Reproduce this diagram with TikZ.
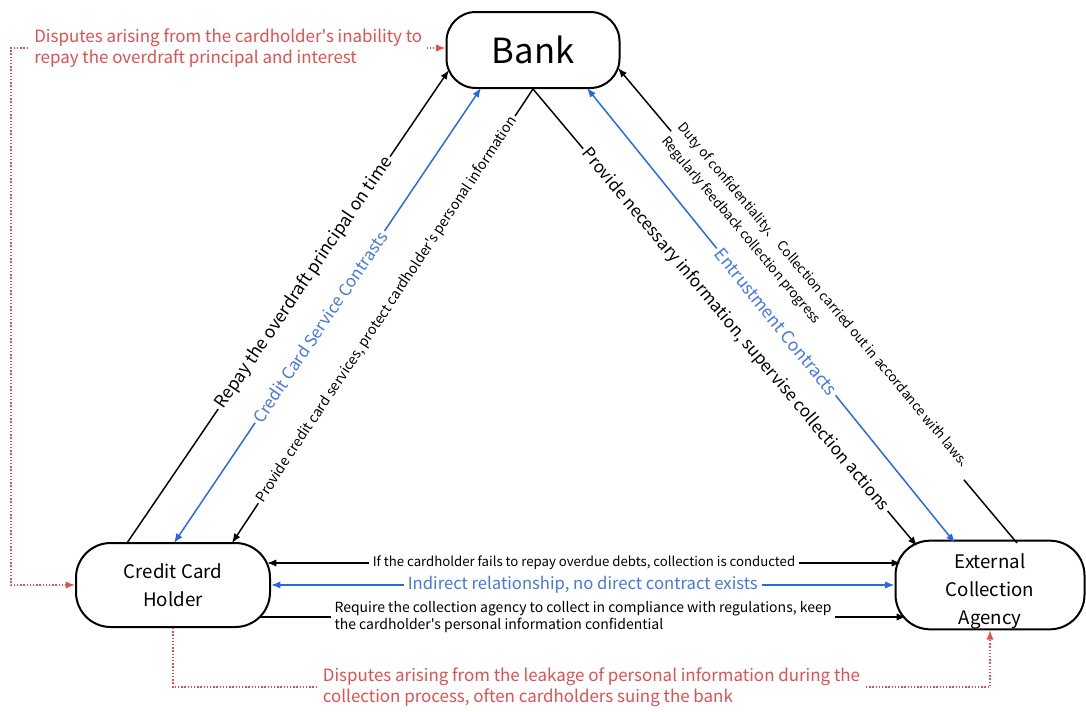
\documentclass[tikz,border=0pt]{standalone}
\usepackage{fontspec}
\setmainfont{Noto Sans CJK SC}[Ligatures=TeXOff]
\usetikzlibrary{arrows.meta,calc}
\definecolor{lineblue}{RGB}{38,104,235}
\definecolor{textblue}{RGB}{70,120,225}
\definecolor{disputered}{RGB}{226,80,80}
\newcommand{\fs}[1]{\fontsize{#1}{1.25\dimexpr#1pt\relax}\selectfont}
\begin{document}
\begin{tikzpicture}[x=0.75pt,y=-0.75pt,
  >={Latex[length=7pt,width=5.5pt]},
  party/.style={draw=black, line width=1.5pt, rounded corners=26pt, fill=white, align=center, inner sep=0pt},
  blk/.style={draw=black, line width=1.1pt},
  blu/.style={draw=lineblue, line width=1.1pt},
  dispute/.style={draw=disputered, line width=1.1pt, dash pattern=on 1.1pt off 1.3pt},
  lbl/.style={fill=white, inner sep=2pt, sloped}]
\useasboundingbox (0,0) rectangle (1086,711);
\draw (533,50) node[party, minimum width=129.75pt, minimum height=57pt, rounded corners=22pt, font=\fs{26}](B){Bank}
(173,585) node[party, minimum width=145.5pt, minimum height=63pt, font=\fontsize{14}{21}\selectfont](CH){Credit Card\\Holder}
(990,585) node[party, minimum width=141.75pt, minimum height=63pt, font=\fontsize{14}{21}\selectfont](EA){\rule{0pt}{21pt}External\\Collection\\Agency};
% bank -- cardholder
\draw [blk] [->] ($(CH.center)+(-46,-42)$) -- node[lbl, pos=0.55, font=\fs{13}]{Repay the overdraft principal on time} ($(B.center)+(-84,20)$);
\draw [blu] [<->] ($(CH.center)+(1,-42)$) -- node[lbl, pos=0.475, text=textblue, font=\fs{12.5}]{Credit Card Service Contrasts} ($(B.center)+(-52,38)$);
\draw [blk] [->] (B.south) -- node[lbl, pos=0.486, font=\fs{10.5}]{Provide credit card services, protect cardholder's personal information} ($(CH.center)+(59,-42)$);
% bank -- agency
\draw [blk] [->] ($(EA.center)+(27,-42)$) -- node[lbl, align=left, inner sep=1pt, font=\fontsize{10}{16}\selectfont]{Duty of confidentiality、 Collection carried out in accordance with laws、\\Regularly feedback collection progress} ($(B.center)+(85,18)$);
\draw [blk] [->] (B.south) -- node[lbl, pos=0.527, font=\fs{12.7}]{Provide necessary information, supervise collection actions} ($(EA.center)+(-73,-39)$);
\draw [blu] [<->] ($(B.center)+(54,38)$) -- node[lbl, pos=0.514, text=textblue, font=\fs{13}]{Entrustment Contracts} ($(EA.center)+(-35,-42)$);
% cardholder -- agency
\draw [blk] [<->] ($(CH.center)+(94,-22)$) -- node[fill=white, inner sep=3pt, font=\fs{9.9}]{If the cardholder fails to repay overdue debts, collection is conducted} ($(EA.center)+(-89,-22)$);
\draw [blu] [<->] (CH.east) -- node[fill=white, inner sep=3pt, text=textblue, font=\fs{12.5}]{Indirect relationship, no direct contract exists} (EA.west);
\draw [blk] [->] ($(CH.center)+(87,32)$) -- node[fill=white, align=left, inner sep=3pt, font=\fs{10.5}]{Require the collection agency to collect in compliance with regulations, keep\\the cardholder's personal information confidential} ($(EA.center)+(-84,32)$);
% disputes
\draw [dispute] [<->] (CH.west) -- ++(-64,0) |- node[pos=0.75, fill=white, text=disputered, align=left, font=\fs{12.7}]{Disputes arising from the cardholder's inability to\\ repay the overdraft principal and interest} ($(B.west)+(0,-2)$);
\draw [dispute] [->] (CH.south) -- ++(0,59) -| node[pos=0.25, xshift=7.5pt, fill=white, text=disputered, align=left, font=\fs{12.7}]{Disputes arising from the leakage of personal information during the\\collection process, often cardholders suing the bank} (EA.south);
\end{tikzpicture}
\end{document}
